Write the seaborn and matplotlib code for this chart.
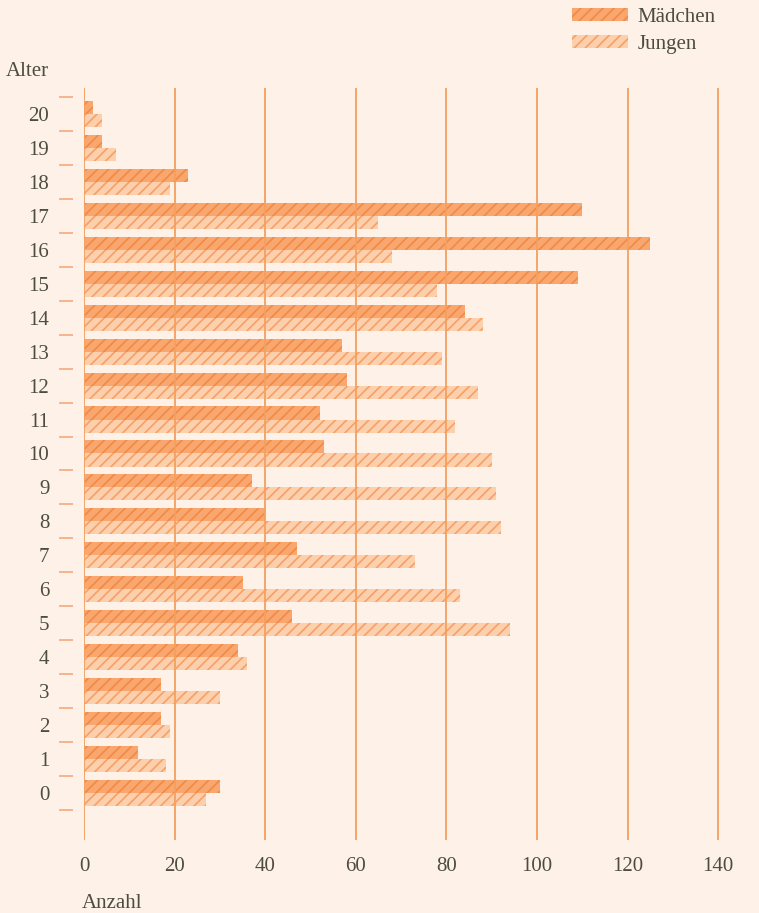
import matplotlib
matplotlib.use("Agg")
import matplotlib.pyplot as plt
import seaborn as sns
import pandas as pd
import numpy as np
from matplotlib.patches import Patch
from matplotlib.ticker import FixedLocator

ages = [str(a) for a in range(20, -1, -1)]
maedchen = [2, 4, 23, 110, 125, 109, 84, 57, 58, 52, 53, 37, 40, 47, 35, 46, 34, 17, 17, 12, 30]
jungen = [4, 7, 19, 65, 68, 78, 88, 79, 87, 82, 90, 91, 92, 73, 83, 94, 36, 30, 19, 18, 27]
series = ["Mädchen", "Jungen"]
x_ticks = [0, 20, 40, 60, 80, 100, 120, 140]

df = pd.DataFrame({
    "Alter": ages * 2,
    "Anzahl": maedchen + jungen,
    "Geschlecht": [series[0]] * len(ages) + [series[1]] * len(ages),
})

bg = "#FEF1E8"
text_c = "#4d4d3d"
grid_c = "#F4A060"
fills = {"Mädchen": "#F9A76F", "Jungen": "#FDD0AD"}
hatch_c = {"Mädchen": "#F08A45", "Jungen": "#F6A068"}

sns.set_theme(style="white")
plt.rcParams["font.family"] = ["Liberation Serif", "DejaVu Serif"]
plt.rcParams["hatch.linewidth"] = 1.2

fig = plt.figure(figsize=(7.59, 9.13), dpi=100, facecolor=bg)
ax = fig.add_axes([84 / 759, 1 - 840 / 913, 1 - 84 / 759, (840 - 88) / 913])
ax.set_facecolor(bg)

sns.barplot(data=df, y="Alter", x="Anzahl", hue="Geschlecht", order=ages,
            hue_order=series, palette=fills, orient="h", width=0.77,
            ax=ax, legend=False, saturation=1)

for cont, s in zip(ax.containers, series):
    for p in cont:
        p.set_facecolor(fills[s])
        p.set_edgecolor(hatch_c[s])
        p.set_linewidth(0)
        p.set_hatch("///")

ax.set_xlim(0, 149)
ax.set_ylim(len(ages) - 1 + 1.39, -0.77)
ax.set_xticks(x_ticks)
ax.set_axisbelow(False)
ax.grid(axis="x", color=grid_c, linewidth=1.3)
ax.grid(axis="y", visible=False)
for sp in ax.spines.values():
    sp.set_visible(False)
ax.spines["left"].set_position(("outward", 8))

ax.yaxis.set_minor_locator(FixedLocator(np.arange(-0.5, len(ages), 1.0)))
ax.tick_params(axis="y", which="minor", length=10, width=1.3, color="#F6B084", left=True)
ax.tick_params(axis="y", which="major", length=0, pad=17, labelsize=15, labelcolor=text_c)
ax.tick_params(axis="x", which="major", length=0, pad=12, labelsize=15, labelcolor=text_c)
ax.set_xlabel("")
ax.set_ylabel("")

fig.text(6 / 759, 1 - 72 / 913, "Alter", fontsize=15, color=text_c, va="center", ha="left")
fig.text(82 / 759, 1 - 903 / 913, "Anzahl", fontsize=15, color=text_c, va="center", ha="left")

handles = [Patch(facecolor=fills[s], edgecolor=hatch_c[s], linewidth=0, hatch="///") for s in series]
leg = fig.legend(handles, series, loc="upper left", bbox_to_anchor=(572 / 759, 1 - 8 / 913),
                 frameon=False, fontsize=15, handlelength=2.7, handleheight=0.58,
                 handletextpad=0.45, labelspacing=0.4, borderpad=0, borderaxespad=0)
for t in leg.get_texts():
    t.set_color(text_c)

fig.savefig("out.png", dpi=100, facecolor=bg)
